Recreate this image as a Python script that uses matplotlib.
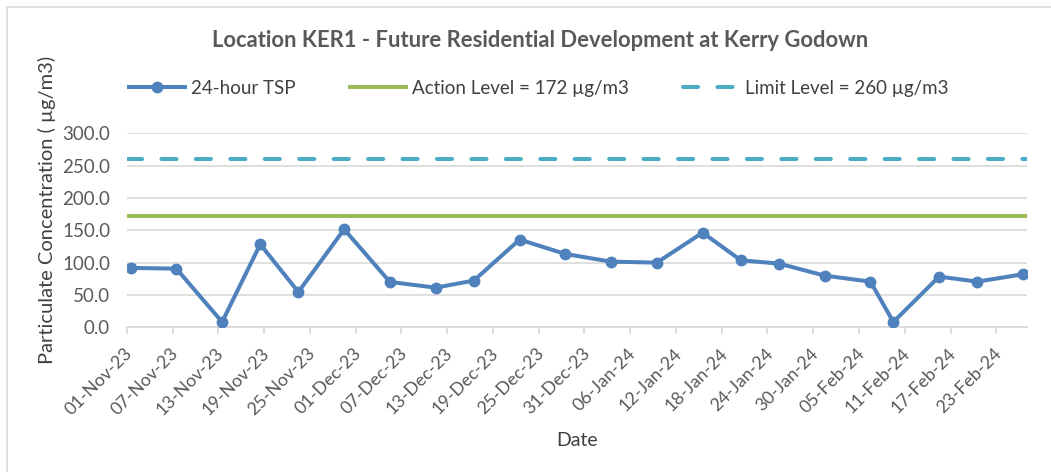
import numpy as np
import pandas as pd
import matplotlib
matplotlib.use("Agg")
import matplotlib.pyplot as plt
import matplotlib.dates as mdates
import matplotlib.transforms as mtransforms
from matplotlib.lines import Line2D
from matplotlib.patches import Rectangle

# data
sample_dates = ["2023-11-01", "2023-11-07", "2023-11-13", "2023-11-18", "2023-11-23",
                "2023-11-29", "2023-12-05", "2023-12-11", "2023-12-16", "2023-12-22",
                "2023-12-28", "2024-01-03", "2024-01-09", "2024-01-15", "2024-01-20",
                "2024-01-25", "2024-01-31", "2024-02-06", "2024-02-09", "2024-02-15",
                "2024-02-20", "2024-02-26"]
tsp = [91.8, 90.7, 8.2, 128.4, 54.6, 151.5, 70.1, 61.3, 72.2, 135.6,
       113.4, 101.5, 100.0, 146.4, 103.6, 98.5, 79.9, 70.6, 8.2, 78.4,
       70.6, 82.0]
action_level = 172
limit_level = 260
axis_start = "2023-11-01"
axis_end = "2024-02-27"
tick_step_days = 6

font = "Lato"
text_col = "#595959"
blue = "#4F81BD"
green = "#9BBB59"
cyan = "#4BACC6"
grid_col = "#D9D9D9"

plt.rcParams["font.family"] = [font, "DejaVu Sans"]

fig = plt.figure(figsize=(10.51, 4.72), dpi=100)
ax = fig.add_axes([0.1206, 0.3066, 0.977 - 0.1206, 0.7176 - 0.3066])

# Excel date axis: each point sits in the middle of its day
x = pd.to_datetime(sample_dates) + pd.Timedelta(hours=12)
x0 = pd.Timestamp(axis_start)
x1 = pd.Timestamp(axis_end)

ax.plot([x0, x1], [limit_level] * 2, color=cyan, lw=2.9,
        dashes=[3.75, 4.8], dash_capstyle="round", zorder=2)
ax.plot([x0, x1], [action_level] * 2, color=green, lw=2.9,
        solid_capstyle="round", zorder=2)
ax.plot(x, tsp, color=blue, lw=2.9, marker="o", markersize=7.5, zorder=3)

ax.set_xlim(x0, x1)
ax.set_ylim(0, 300)
ax.set_yticks(np.arange(0, 301, 50))
ax.yaxis.set_major_formatter(matplotlib.ticker.FormatStrFormatter("%.1f"))
ticks = pd.date_range(axis_start, axis_end, freq=f"{tick_step_days}D")
ax.set_xticks(ticks)
ax.xaxis.set_major_formatter(mdates.DateFormatter("%d-%b-%y"))

ax.grid(axis="y", color=grid_col, lw=1.2)
ax.set_axisbelow(True)
for s in ["top", "right", "left"]:
    ax.spines[s].set_visible(False)
ax.spines["bottom"].set_color(grid_col)
ax.spines["bottom"].set_linewidth(1.2)
ax.tick_params(axis="y", length=0, labelsize=13.5, labelcolor=text_col, pad=12)
ax.tick_params(axis="x", length=5, color=grid_col, width=1.2,
               labelsize=12.8, labelcolor=text_col, pad=12)
shift = mtransforms.ScaledTranslation(3 / 100, 0, fig.dpi_scale_trans)
for lab in ax.get_xticklabels():
    lab.set_rotation(45)
    lab.set_ha("right")
    lab.set_va("center")
    lab.set_rotation_mode("anchor")
    lab.set_transform(lab.get_transform() + shift)

ax.set_ylabel("Particulate Concentration ( µg/m3)", fontsize=14.5, color="#404040")
ax.yaxis.set_label_coords(-0.079, 0.604)
ax.set_xlabel("Date", fontsize=14, color="#404040")
ax.xaxis.set_label_coords(0.5, -0.54)

fig.text(0.514, 0.915, "Location KER1 - Future Residential Development at Kerry Godown",
         ha="center", va="center", fontsize=15.8, fontweight="bold", color=text_col)

handles = [
    Line2D([], [], color=blue, lw=2.9, marker="o", markersize=7.5),
    Line2D([], [], color=green, lw=2.9),
    Line2D([], [], color=cyan, lw=2.9, dashes=[3.75, 4.8], dash_capstyle="round"),
]
labels = ["24-hour TSP", "Action Level = 172 µg/m3", "Limit Level = 260 µg/m3"]
leg = fig.legend(handles, labels, loc="center", bbox_to_anchor=(0.5124, 0.813),
                 ncol=3, frameon=False, fontsize=13.5, handlelength=3.0,
                 columnspacing=2.9, handletextpad=0.3)
for t in leg.get_texts():
    t.set_color("#404040")

# chart area border
fig.patches.append(Rectangle((7 / 1051, -0.1), 1.2, 1 - 7 / 472 + 0.1,
                             transform=fig.transFigure, fill=False,
                             edgecolor=grid_col, lw=1.2))

fig.savefig("out.png", dpi=100)
